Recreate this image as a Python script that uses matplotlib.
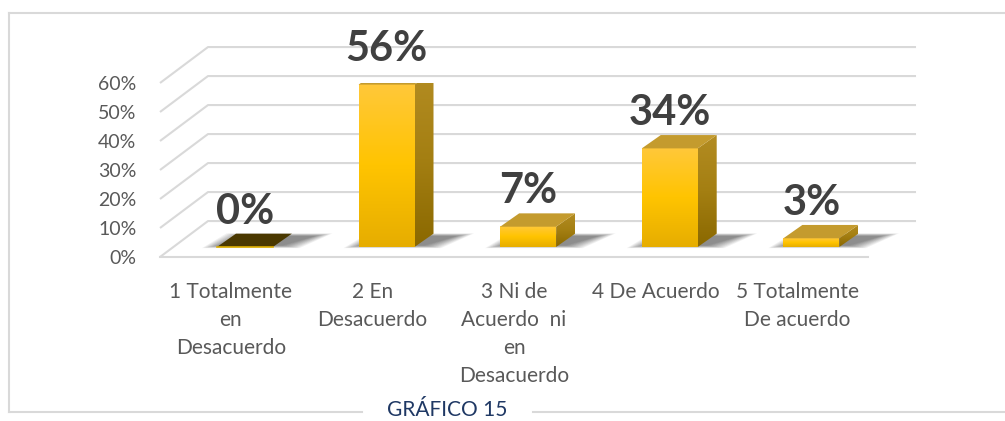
import numpy as np
import matplotlib
matplotlib.use("Agg")
import matplotlib.pyplot as plt
from matplotlib.patches import Polygon
from matplotlib.colors import LinearSegmentedColormap
from matplotlib.lines import Line2D

plt.rcParams['font.family'] = ['Lato', 'DejaVu Sans']

categorias = ['1 Totalmente\nen\nDesacuerdo', '2 En\nDesacuerdo',
              '3 Ni de\nAcuerdo  ni\nen\nDesacuerdo', '4 De Acuerdo',
              '5 Totalmente\nDe acuerdo']
valores = [0, 56, 7, 34, 3]
etiquetas = ['0%', '56%', '7%', '34%', '3%']
ticks_y = [0, 10, 20, 30, 40, 50, 60]
titulo = 'GRÁFICO 15'

# geometria de la perspectiva (unidades de datos)
PROF_X, PROF_Y = 0.339, 12.4      # profundidad total del piso
OFF_X, OFF_Y = 0.10, 3.45         # cara frontal de la barra
BAR_DX, BAR_DY = 0.134, 4.6       # profundidad de la barra
ANCHO = 0.395

GRIS = '#d9d9d9'
TEXTO = '#595959'

fig = plt.figure(figsize=(10.05, 4.21), dpi=100)
ax = fig.add_axes([160 / 1005, 164 / 421, 708 / 1005, 174 / 421])
ax.set_xlim(-0.5, 4.5)
ax.set_ylim(0, 60)
for s in ax.spines.values():
    s.set_visible(False)
ax.set_facecolor('none')

# rejilla: pared del fondo y diagonales laterales
x0, x1 = -0.5, 4.5
for v in ticks_y:
    ax.plot([x0, x0 + PROF_X, x1 + PROF_X], [v, v + PROF_Y, v + PROF_Y],
            color=GRIS, lw=1.5, clip_on=False, zorder=1, solid_capstyle='butt')
ax.plot([x0, x1], [0, 0], color=GRIS, lw=1.5, clip_on=False, zorder=1)

cmap_frente = LinearSegmentedColormap.from_list(
    'frente', ['#e6ad00', '#ffc400', '#ffc83a'])
cmap_lado = LinearSegmentedColormap.from_list(
    'lado', ['#8a6800', '#a47f12', '#b38c22'])
grad = np.linspace(0, 1, 256).reshape(-1, 1)

for i, (v, txt) in enumerate(zip(valores, etiquetas)):
    cx = i + OFF_X
    xl, xr = cx - ANCHO / 2, cx + ANCHO / 2
    yb, yt = OFF_Y, OFF_Y + v

    # sombra difusa sobre el piso
    for k in range(10):
        e = 0.01 + 0.013 * k
        sh = Polygon([(xl - e + 0.02, yb + 0.5 - 0.1 * k),
                      (xr + e + 0.06, yb + 0.5 - 0.1 * k),
                      (xr + BAR_DX + e + 0.16, yb + BAR_DY - 0.8 + 0.1 * k),
                      (xl + BAR_DX - e + 0.06, yb + BAR_DY - 0.8 + 0.1 * k)],
                     closed=True, facecolor='black', edgecolor='none',
                     alpha=0.055, zorder=2, clip_on=False)
        ax.add_patch(sh)

    if v == 0:
        tapa = Polygon([(xl, yb), (xr, yb), (xr + BAR_DX, yb + BAR_DY),
                        (xl + BAR_DX, yb + BAR_DY)], closed=True,
                       facecolor='#4a3800', edgecolor='none', zorder=4)
        ax.add_patch(tapa)
        ax.plot([xl, xr], [yb, yb], color='#e0b000', lw=1.2, zorder=5)
    else:
        # cara lateral con degradado
        lado = Polygon([(xr, yb), (xr + BAR_DX, yb + BAR_DY),
                        (xr + BAR_DX, yt + BAR_DY), (xr, yt)], closed=True,
                       facecolor='none', edgecolor='none', zorder=3)
        ax.add_patch(lado)
        im = ax.imshow(grad, cmap=cmap_lado, origin='lower', aspect='auto',
                       extent=[xr, xr + BAR_DX, yb, yt + BAR_DY], zorder=3)
        im.set_clip_path(lado)
        # cara frontal con degradado
        ax.imshow(grad, cmap=cmap_frente, origin='lower', aspect='auto',
                  extent=[xl, xr, yb, yt], zorder=4)
        # tapa
        tapa = Polygon([(xl, yt), (xr, yt), (xr + BAR_DX, yt + BAR_DY),
                        (xl + BAR_DX, yt + BAR_DY)], closed=True,
                       facecolor='#c49b2e', edgecolor='none', zorder=5)
        ax.add_patch(tapa)

    ax.text(cx, yt + BAR_DY + 3.4, txt, ha='center', va='baseline',
            fontsize=30, fontweight='bold', color='#404040', zorder=6)

ax.set_xlim(-0.5, 4.5)
ax.set_ylim(0, 60)

ax.set_yticks(ticks_y)
ax.set_yticklabels([f'{t}%' for t in ticks_y])
ax.set_xticks(range(len(categorias)))
ax.set_xticklabels(categorias, linespacing=1.5)
ax.tick_params(axis='y', length=0, pad=17, labelsize=14, labelcolor=TEXTO)
ax.tick_params(axis='x', length=0, pad=18, labelsize=15, labelcolor=TEXTO)

# marco del grafico
W, H = 1005, 421
def px(x, y):
    return x / W, 1 - y / H
marco = dict(color='#d9d9d9', lw=1.5, transform=fig.transFigure)
fig.add_artist(Line2D(*zip(px(9, 13), px(1005, 13)), **marco))
fig.add_artist(Line2D(*zip(px(9, 13), px(9, 412)), **marco))
fig.add_artist(Line2D(*zip(px(9, 412), px(362, 412)), **marco))
fig.add_artist(Line2D(*zip(px(533, 412), px(1005, 412)), **marco))

fig.text(447 / W, 1 - 416 / H, titulo, ha='center', va='baseline',
         fontsize=15, color='#1f3864')

fig.savefig('out.png', dpi=100)
